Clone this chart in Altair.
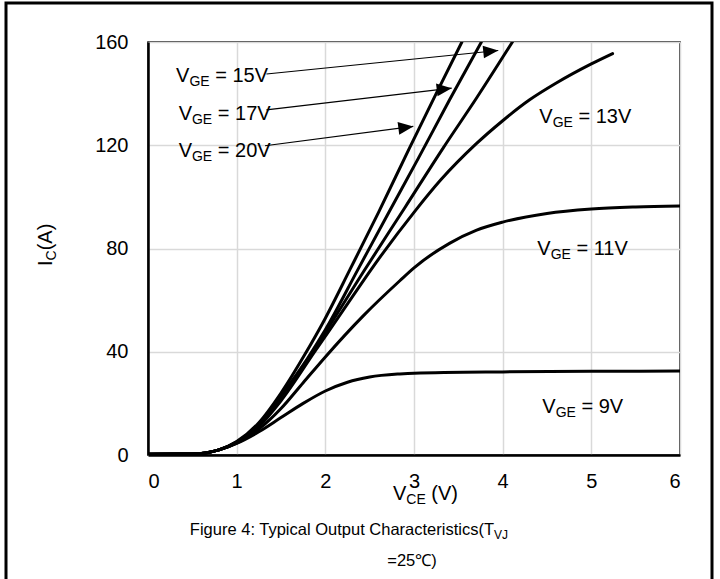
import math
import altair as alt
import pandas as pd

# ---------------- data ----------------
vce_9 = [0, 0.5, 0.8, 1.0, 1.25, 1.5, 1.75, 2.0, 2.25, 2.5, 2.84, 3.0, 4.0, 5.0, 6.0]
ic_9 = [0.3, 0.4, 2, 4.5, 9, 14.5, 20, 24.8, 28.2, 30.2, 31.4, 31.7, 32.2, 32.4, 32.5]

vce_11 = [0, 0.5, 0.8, 1.0, 1.25, 1.5, 1.75, 2.0, 2.43, 2.84, 3.0, 3.4, 3.7, 4.0, 4.5, 5.0, 5.5, 6.0]
ic_11 = [0.3, 0.4, 2, 4.6, 10, 18, 28, 38, 54, 67.5, 72.5, 82, 87, 90.2, 93.6, 95.3, 96.1, 96.5]

vce_13 = [0, 0.5, 0.8, 1.0, 1.25, 1.5, 1.88, 2.2, 2.54, 3.0, 3.3, 3.7, 4.0, 4.3, 4.6, 5.0, 5.24]
ic_13 = [0.3, 0.4, 2, 4.8, 11, 21, 40, 56, 73, 94, 106.5, 120.5, 129.5, 137.5, 144, 151.5, 155.5]

vce_15 = [0, 0.5, 0.8, 1.0, 1.25, 1.5, 1.8, 2.0, 2.43, 2.9, 3.33, 3.7, 4.11]
ic_15 = [0.3, 0.4, 2, 5, 12, 22.5, 37, 47.5, 71, 96, 119, 138, 160]

vce_17 = [0, 0.5, 0.8, 1.0, 1.25, 1.5, 1.8, 2.0, 2.37, 2.7, 3.05, 3.4, 3.76]
ic_17 = [0.3, 0.4, 2, 5, 12, 23, 37.5, 48.5, 72, 93, 115, 137.5, 160]

vce_20 = [0, 0.5, 0.8, 1.0, 1.25, 1.5, 1.77, 2.0, 2.28, 2.6, 2.95, 3.25, 3.54]
ic_20 = [0.3, 0.4, 2, 5.2, 12.5, 24, 39, 53, 72, 94, 119, 140, 160]

x_ticks = [0, 1, 2, 3, 4, 5, 6]
y_ticks = [0, 40, 80, 120, 160]

# curve labels (junction between "V" and subscript), data units
lab_names = ["15V", "17V", "20V", "13V", "11V", "9V"]
lab_x = [0.467, 0.496, 0.496, 4.564, 4.541, 4.598]
lab_y = [144.6, 129.8, 115.6, 128.8, 77.5, 16.2]

# arrows (start -> tip), data units
arr_x0 = [1.336, 1.336, 1.32]
arr_y0 = [147.6, 133.7, 119.8]
arr_x1 = [3.95, 3.425, 2.992]
arr_y1 = [156.7, 142.1, 127.3]

# ---------------- layout ----------------
W, H = 532, 413
PAD_L, PAD_T = 148, 42
FONT = "Liberation Sans"
FS, SFS = 20, 14

AW = {"V": 0.667, "G": 0.778, "E": 0.667, "C": 0.722, "J": 0.5, "I": 0.278, " ": 0.278}


def tw(s, fs):
    return sum(AW.get(c, 0.556) for c in s) * fs


rows = []
for name, xs, ys in [("9V", vce_9, ic_9), ("11V", vce_11, ic_11), ("13V", vce_13, ic_13),
                     ("15V", vce_15, ic_15), ("17V", vce_17, ic_17), ("20V", vce_20, ic_20)]:
    for i, (a, b) in enumerate(zip(xs, ys)):
        rows.append({"s": name, "x": a, "y": b, "o": i})
df = pd.DataFrame(rows)

xsc = alt.Scale(domain=[0, 6], nice=False, zero=False)
ysc = alt.Scale(domain=[0, 160], nice=False, zero=False)

axis_common = dict(labelFont=FONT, labelFontSize=FS, labelColor="black", ticks=False,
                   grid=True, gridColor="#d9d9d9", gridWidth=1.5, format="d",
                   domain=True, domainColor="black", domainWidth=2.5, title=None)

lines = alt.Chart(df).mark_line(color="black", strokeWidth=3, interpolate="monotone",
                                strokeCap="round", clip=True).encode(
    x=alt.X("x:Q", scale=xsc, axis=alt.Axis(values=x_ticks, labelPadding=16, **axis_common)),
    y=alt.Y("y:Q", scale=ysc, axis=alt.Axis(values=y_ticks, labelPadding=20, **axis_common)),
    detail="s:N",
    order="o:Q",
)

# arrows
adf = pd.DataFrame({"x0": arr_x0, "y0": arr_y0, "x1": arr_x1, "y1": arr_y1})
adf["ang"] = [
    (math.degrees(math.atan2(-(b1 - b0) * H / 160, (a1 - a0) * W / 6)) + 360) % 360
    for a0, b0, a1, b1 in zip(arr_x0, arr_y0, arr_x1, arr_y1)
]
arrow_lines = alt.Chart(adf).mark_rule(color="black", strokeWidth=1.2).encode(
    x=alt.X("x0:Q", scale=xsc), y=alt.Y("y0:Q", scale=ysc),
    x2="x1:Q", y2="y1:Q")
arrow_heads = alt.Chart(adf).mark_point(
    shape="M0,0 L-2,-0.85 L-2,0.85 Z", size=225, filled=True, color="black", opacity=1,
    strokeWidth=0).encode(
    x=alt.X("x1:Q", scale=xsc), y=alt.Y("y1:Q", scale=ysc),
    angle=alt.Angle("ang:Q", scale=None))

# curve labels
ldf = pd.DataFrame({"x": lab_x, "y": lab_y, "rest": ["= " + n for n in lab_names]})
sub_w = tw("GE", SFS) + tw(" ", FS)
lab_base = alt.Chart(ldf).mark_text(text="V", align="right", baseline="alphabetic",
                                    font=FONT, fontSize=FS, color="black").encode(
    x=alt.X("x:Q", scale=xsc), y=alt.Y("y:Q", scale=ysc))
lab_sub = alt.Chart(ldf).mark_text(text="GE", align="left", baseline="alphabetic", dy=4,
                                   font=FONT, fontSize=SFS, color="black").encode(
    x=alt.X("x:Q", scale=xsc), y=alt.Y("y:Q", scale=ysc))
lab_rest = alt.Chart(ldf).mark_text(align="left", baseline="alphabetic", dx=sub_w,
                                    font=FONT, fontSize=FS, color="black").encode(
    x=alt.X("x:Q", scale=xsc), y=alt.Y("y:Q", scale=ysc), text="rest:N")


def sub_text(px, py, base, sub, rest, fs=FS, sfs=SFS, angle=0, sdy=4, gap=0.0):
    """text with subscript; (px, py) = absolute page position of the base/sub junction"""
    d = pd.DataFrame({"a": [0]})
    common = dict(baseline="alphabetic", color="black", font=FONT)
    if angle:
        common["angle"] = angle
    enc = dict(x=alt.value(px - PAD_L), y=alt.value(py - PAD_T))
    parts = [
        alt.Chart(d).mark_text(text=base, align="right", fontSize=fs, **common).encode(**enc),
        alt.Chart(d).mark_text(text=sub, align="left", dy=sdy, fontSize=sfs, **common).encode(**enc),
    ]
    if rest:
        parts.append(alt.Chart(d).mark_text(text=rest, align="left", dx=tw(sub, sfs) + gap,
                                            fontSize=fs, **common).encode(**enc))
    return parts


# axis titles and caption
ytitle = sub_text(52, 266 - tw("I", FS), "I", "C", "(A)", angle=270)
xtitle = sub_text(393 + tw("V", FS), 500, "V", "CE", "(V)", gap=tw(" ", FS))
cap1 = sub_text(494, 535, "Figure 4: Typical Output Characteristics(T", "VJ", "", fs=16.5, sfs=12)
d0 = pd.DataFrame({"a": [0]})
cap2 = alt.Chart(d0).mark_text(text="=25℃)", align="center", baseline="alphabetic",
                               font=FONT, fontSize=16.5, color="black").encode(
    x=alt.value(412 - PAD_L), y=alt.value(566 - PAD_T))

frame = alt.Chart(d0).mark_rect(fill=None, stroke="black", strokeWidth=3).encode(
    x=alt.value(6 - PAD_L), x2=alt.value(712 - PAD_L),
    y=alt.value(3 - PAD_T), y2=alt.value(620 - PAD_T))

chart = alt.layer(
    lines, arrow_lines, arrow_heads, lab_base, lab_sub, lab_rest,
    *ytitle, *xtitle, *cap1, cap2, frame,
).properties(
    width=W, height=H,
    autosize=alt.AutoSizeParams(type="none"),
    padding={"left": PAD_L, "top": PAD_T, "right": 720 - PAD_L - W, "bottom": 579 - PAD_T - H},
    background="white",
).configure_view(stroke="black", strokeWidth=1.5)

chart.save("out.html", embed_options={"renderer": "svg", "actions": False})
